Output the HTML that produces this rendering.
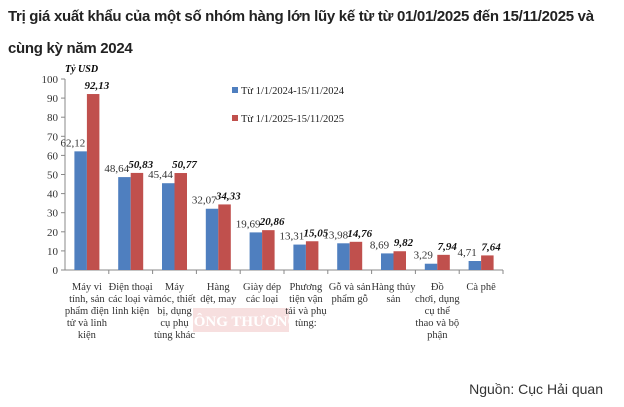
<!DOCTYPE html>
<html><head><meta charset="utf-8"><style>
body{margin:0;background:#fff;width:624px;height:407px;overflow:hidden;font-family:"Liberation Sans",sans-serif}
.t{position:absolute;left:8px;top:1px;font-size:15px;letter-spacing:-0.3px;font-weight:bold;color:#222;line-height:32px;white-space:nowrap}
svg text{font-family:"Liberation Serif",serif}
</style></head><body>
<div class="t">Trị giá xuất khẩu của một số nhóm hàng lớn lũy kế từ từ 01/01/2025 đến 15/11/2025 và<br>cùng kỳ năm 2024</div>
<svg width="624" height="407" style="position:absolute;left:0;top:0" id="c">
<rect x="193" y="308" width="96" height="24" fill="#f2c9c9" opacity="0.6"/>
<text x="241" y="326" font-size="15" font-weight="bold" fill="#fff" text-anchor="middle">CÔNG THƯƠNG</text>
<text x="65" y="72" font-size="10" font-weight="bold" font-style="italic">Tỷ USD</text>
<text x="603" y="394" font-size="14" fill="#333" text-anchor="end" style="font-family:'Liberation Sans',sans-serif">Nguồn: Cục Hải quan</text>
</svg>
<script>
const categories=[["Máy vi","tính, sản","phẩm điện","tử và linh","kiện"],["Điện thoại","các loại và","linh kiện"],["Máy","móc, thiết","bị, dụng","cụ phụ","tùng khác"],["Hàng","dệt, may"],["Giày dép","các loại"],["Phương","tiện vận","tải và phụ","tùng:"],["Gỗ và sản","phẩm gỗ"],["Hàng thủy","sản"],["Đồ","chơi, dụng","cụ thể","thao và bộ","phận"],["Cà phê"]];
const series2024=[62.12,48.64,45.44,32.07,19.69,13.31,13.98,8.69,3.29,4.71];
const series2025=[92.13,50.83,50.77,34.33,20.86,15.05,14.76,9.82,7.94,7.64];
const yTicks=[0,10,20,30,40,50,60,70,80,90,100];
const svg=document.getElementById('c');const NS='http://www.w3.org/2000/svg';
const x0=65,x1=503,y0=270,yTop=79;
const bw=(x1-x0)/categories.length;
const y=v=>y0-(v/100)*(y0-yTop);
function el(t,a,txt){const e=document.createElementNS(NS,t);for(const k in a)e.setAttribute(k,a[k]);if(txt!=null)e.textContent=txt;svg.appendChild(e);return e;}
const ax=el('line',{x1:x0,y1:yTop,x2:x0,y2:y0,stroke:'#888'});

const xa=el('line',{x1:x0,y1:y0,x2:x1,y2:y0,stroke:'#888'});

yTicks.forEach(v=>{
 const tl=el('line',{x1:x0-4,y1:y(v),x2:x0,y2:y(v),stroke:'#888'});
 
 const t=el('text',{x:x0-7,y:y(v)+4,'font-size':11,'text-anchor':'end',fill:'#333'},v);
 
});
categories.forEach((c,i)=>{
 const cx=x0+bw*(i+0.5);
 const tk=el('line',{x1:x0+bw*(i+1),y1:y0,x2:x0+bw*(i+1),y2:y0+4,stroke:'#888'});
 
 const b1=el('rect',{x:cx-12.5,y:y(series2024[i]),width:12.5,height:y0-y(series2024[i]),fill:'#4f7fbf'});
 
 const b2=el('rect',{x:cx,y:y(series2025[i]),width:12.5,height:y0-y(series2025[i]),fill:'#c0504d'});
 
 const l1=el('text',{x:cx-14,y:y(series2024[i])-5,'font-size':11,'text-anchor':'middle',fill:'#333'},series2024[i].toFixed(2).replace('.',','));
 
 const l2=el('text',{x:cx+10,y:y(series2025[i])-5,'font-size':11,'font-weight':'bold','font-style':'italic','text-anchor':'middle',fill:'#111'},series2025[i].toFixed(2).replace('.',','));
 
 c.forEach((ln,j)=>{
  const t=el('text',{x:cx,y:y0+20+j*12,'font-size':10.5,'text-anchor':'middle',fill:'#333'},ln);
  
 });
});
[['#4f7fbf','Từ 1/1/2024-15/11/2024',91],['#c0504d','Từ 1/1/2025-15/11/2025',119]].forEach(([col,txt,yy])=>{
 const m=el('rect',{x:232,y:yy-4,width:6,height:6,fill:col});
 
 const t=el('text',{x:241,y:yy+3,'font-size':10.5,fill:'#222'},txt);
 
});
</script>
</body></html>
